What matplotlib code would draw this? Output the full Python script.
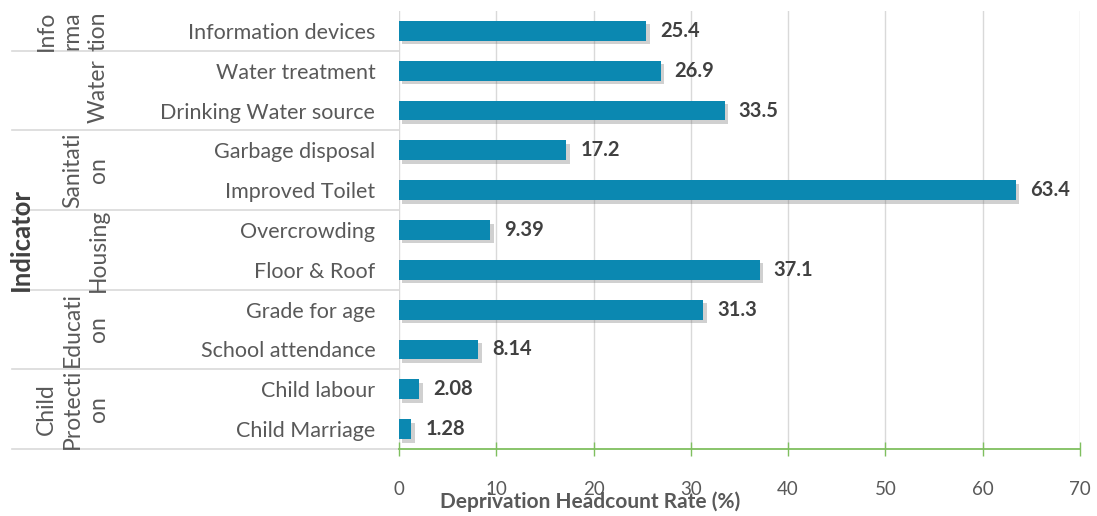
import matplotlib
matplotlib.use("Agg")
import matplotlib.pyplot as plt
import matplotlib.patheffects as pe
import matplotlib.transforms as mtransforms

plt.rcParams['font.family'] = ['Lato', 'DejaVu Sans']

indicators = ['Information devices', 'Water treatment', 'Drinking Water source',
              'Garbage disposal', 'Improved Toilet', 'Overcrowding', 'Floor & Roof',
              'Grade for age', 'School attendance', 'Child labour', 'Child Marriage']
rates = [25.4, 26.9, 33.5, 17.2, 63.4, 9.39, 37.1, 31.3, 8.14, 2.08, 1.28]
rate_labels = ['25.4', '26.9', '33.5', '17.2', '63.4', '9.39', '37.1', '31.3', '8.14', '2.08', '1.28']

groups = ['Info\nrma\ntion', 'Water', 'Sanitati\non', 'Housing', 'Educati\non', 'Child\nProtecti\non']
group_sizes = [1, 2, 2, 2, 2, 2]

bar_color = '#0b88b1'
text_grey = '#595959'
axis_green = '#7fbf5f'

fig = plt.figure(figsize=(10.97, 5.16), dpi=100)
ax = fig.add_axes([0.3637, 0.1298, 0.6208, 0.8489])

y = list(range(len(indicators)))
bars = ax.barh(y, rates, height=0.5, color=bar_color, zorder=3)
for b in bars:
    b.set_path_effects([pe.SimplePatchShadow(offset=(2.5, -2.5), shadow_rgbFace='#666666', alpha=0.3),
                        pe.Normal()])

for yi, v, lab in zip(y, rates, rate_labels):
    ax.annotate(lab, (v, yi), xytext=(10, 0), textcoords='offset points',
                va='center', ha='left', fontsize=14.5, fontweight='bold', color='#404040')

ax.set_xlim(0, 70)
ax.set_ylim(len(indicators) - 0.5, -0.5)
ax.set_xticks(range(0, 71, 10))
ax.set_yticks(y)
ax.set_yticklabels(indicators, fontsize=15.5, color=text_grey)
ax.tick_params(axis='y', length=0, pad=17)
ax.tick_params(axis='x', direction='inout', length=10, width=1, color=axis_green,
               labelsize=13.5, labelcolor=text_grey, pad=18)
ax.grid(axis='x', color='#d9d9d9', linewidth=1, zorder=0)
for s in ['top', 'right', 'left']:
    ax.spines[s].set_visible(False)
ax.spines['bottom'].set_color(axis_green)
ax.spines['bottom'].set_linewidth(1.3)

fig.text(590 / 1097, 1 - 502 / 516, 'Deprivation Headcount Rate (%)', ha='center', va='center',
         fontsize=15, fontweight='bold', color=text_grey)

# group separators and group names in the left margin
trans = mtransforms.blended_transform_factory(ax.transAxes, ax.transData)
x_left = -0.568
start = -0.5
for name, n in zip(groups, group_sizes):
    end = start + n
    ax.plot([x_left, 0], [end, end], transform=trans, color='#d9d9d9',
            linewidth=1.2, clip_on=False, zorder=1)
    ax.text(-0.426, (start + end) / 2, name, transform=trans, rotation=90,
            ha='right', va='center', fontsize=16.5, color=text_grey,
            multialignment='center', linespacing=1.3)
    start = end

fig.text(0.019, 0.535, 'Indicator', rotation=90, ha='center', va='center',
         fontsize=18.5, fontweight='bold', color='#404040')

fig.savefig('out.png', dpi=100)
